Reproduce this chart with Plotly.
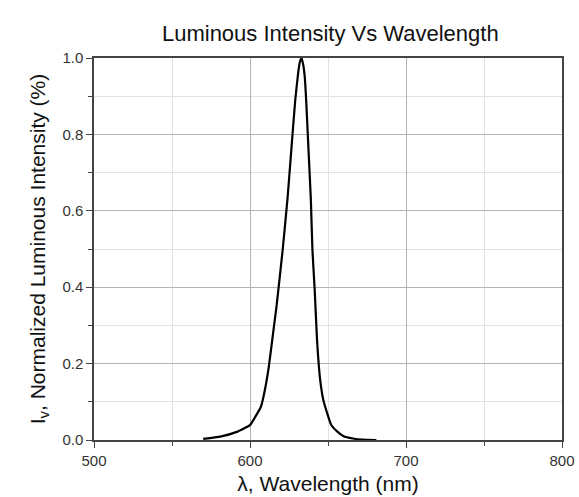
import plotly.graph_objects as go

wavelength = [570, 581, 592, 596, 600, 603, 607, 609.5, 612, 614.5, 617, 621, 624, 626.5, 629,
              631, 632, 633, 634, 635, 636, 637.5, 639, 640, 641.5, 643, 645, 647, 649.5,
              652, 656, 660, 666, 672, 681]
intensity = [0.003, 0.009, 0.022, 0.030, 0.039, 0.058, 0.087, 0.13, 0.19, 0.27, 0.35, 0.50, 0.63, 0.76, 0.89,
             0.965, 0.99, 1.0, 0.985, 0.955, 0.89, 0.76, 0.63, 0.50, 0.39, 0.26, 0.157, 0.105, 0.07,
             0.04, 0.022, 0.01, 0.004, 0.001, 0.0]

x_ticks = [500, 600, 700, 800]
y_ticks = [0.0, 0.2, 0.4, 0.6, 0.8, 1.0]

fig = go.Figure(go.Scatter(x=wavelength, y=intensity, mode="lines",
                           line=dict(color="black", width=2.2, shape="spline", smoothing=0.4)))

font = "Liberation Sans, Arial, sans-serif"
fig.update_layout(
    width=579, height=497,
    margin=dict(l=94, r=17, t=58, b=57, autoexpand=False),
    paper_bgcolor="white", plot_bgcolor="white",
    showlegend=False,
    font=dict(family=font, color="#222"),
    title=dict(text="Luminous Intensity Vs Wavelength", x=(94 + 562) / 2 / 579 + 0.004, xanchor="center",
               y=1 - 33 / 497, yanchor="middle", font=dict(size=22, color="#111")),
)
fig.update_xaxes(
    range=[500, 800], tickvals=x_ticks, ticktext=[str(v) for v in x_ticks],
    showline=True, linecolor="#444", linewidth=1.5, mirror=True,
    ticks="outside", ticklen=6, tickcolor="#444", tickwidth=1.2,
    showgrid=True, gridcolor="#b4b4b4", gridwidth=1,
    minor=dict(tickvals=[550, 650, 750], ticks="outside", ticklen=4, tickcolor="#444",
               showgrid=True, gridcolor="#e2e2e2", gridwidth=1),
    tickfont=dict(size=15, color="#333"),
    title=dict(text="λ, Wavelength (nm)", font=dict(size=21, color="#111"), standoff=9),
    zeroline=False, automargin=False,
)
fig.update_yaxes(
    range=[0, 1.0], tickvals=y_ticks, ticktext=[f"{v:.1f}" for v in y_ticks],
    showline=True, linecolor="#444", linewidth=1.5, mirror=True,
    ticks="outside", ticklen=6, tickcolor="#444", tickwidth=1.2,
    showgrid=True, gridcolor="#b4b4b4", gridwidth=1,
    minor=dict(tickvals=[0.1, 0.3, 0.5, 0.7, 0.9], ticks="outside", ticklen=4, tickcolor="#444",
               showgrid=True, gridcolor="#e2e2e2", gridwidth=1),
    tickfont=dict(size=15, color="#333"),
    title=dict(text="I<sub>v</sub>, Normalized Luminous Intensity (%)", font=dict(size=21, color="#111"),
               standoff=11),
    zeroline=False, automargin=False,
)

fig.write_html("out.html", config={"displayModeBar": False},
               post_script="document.body.style.margin='0';document.body.style.overflow='hidden';")
